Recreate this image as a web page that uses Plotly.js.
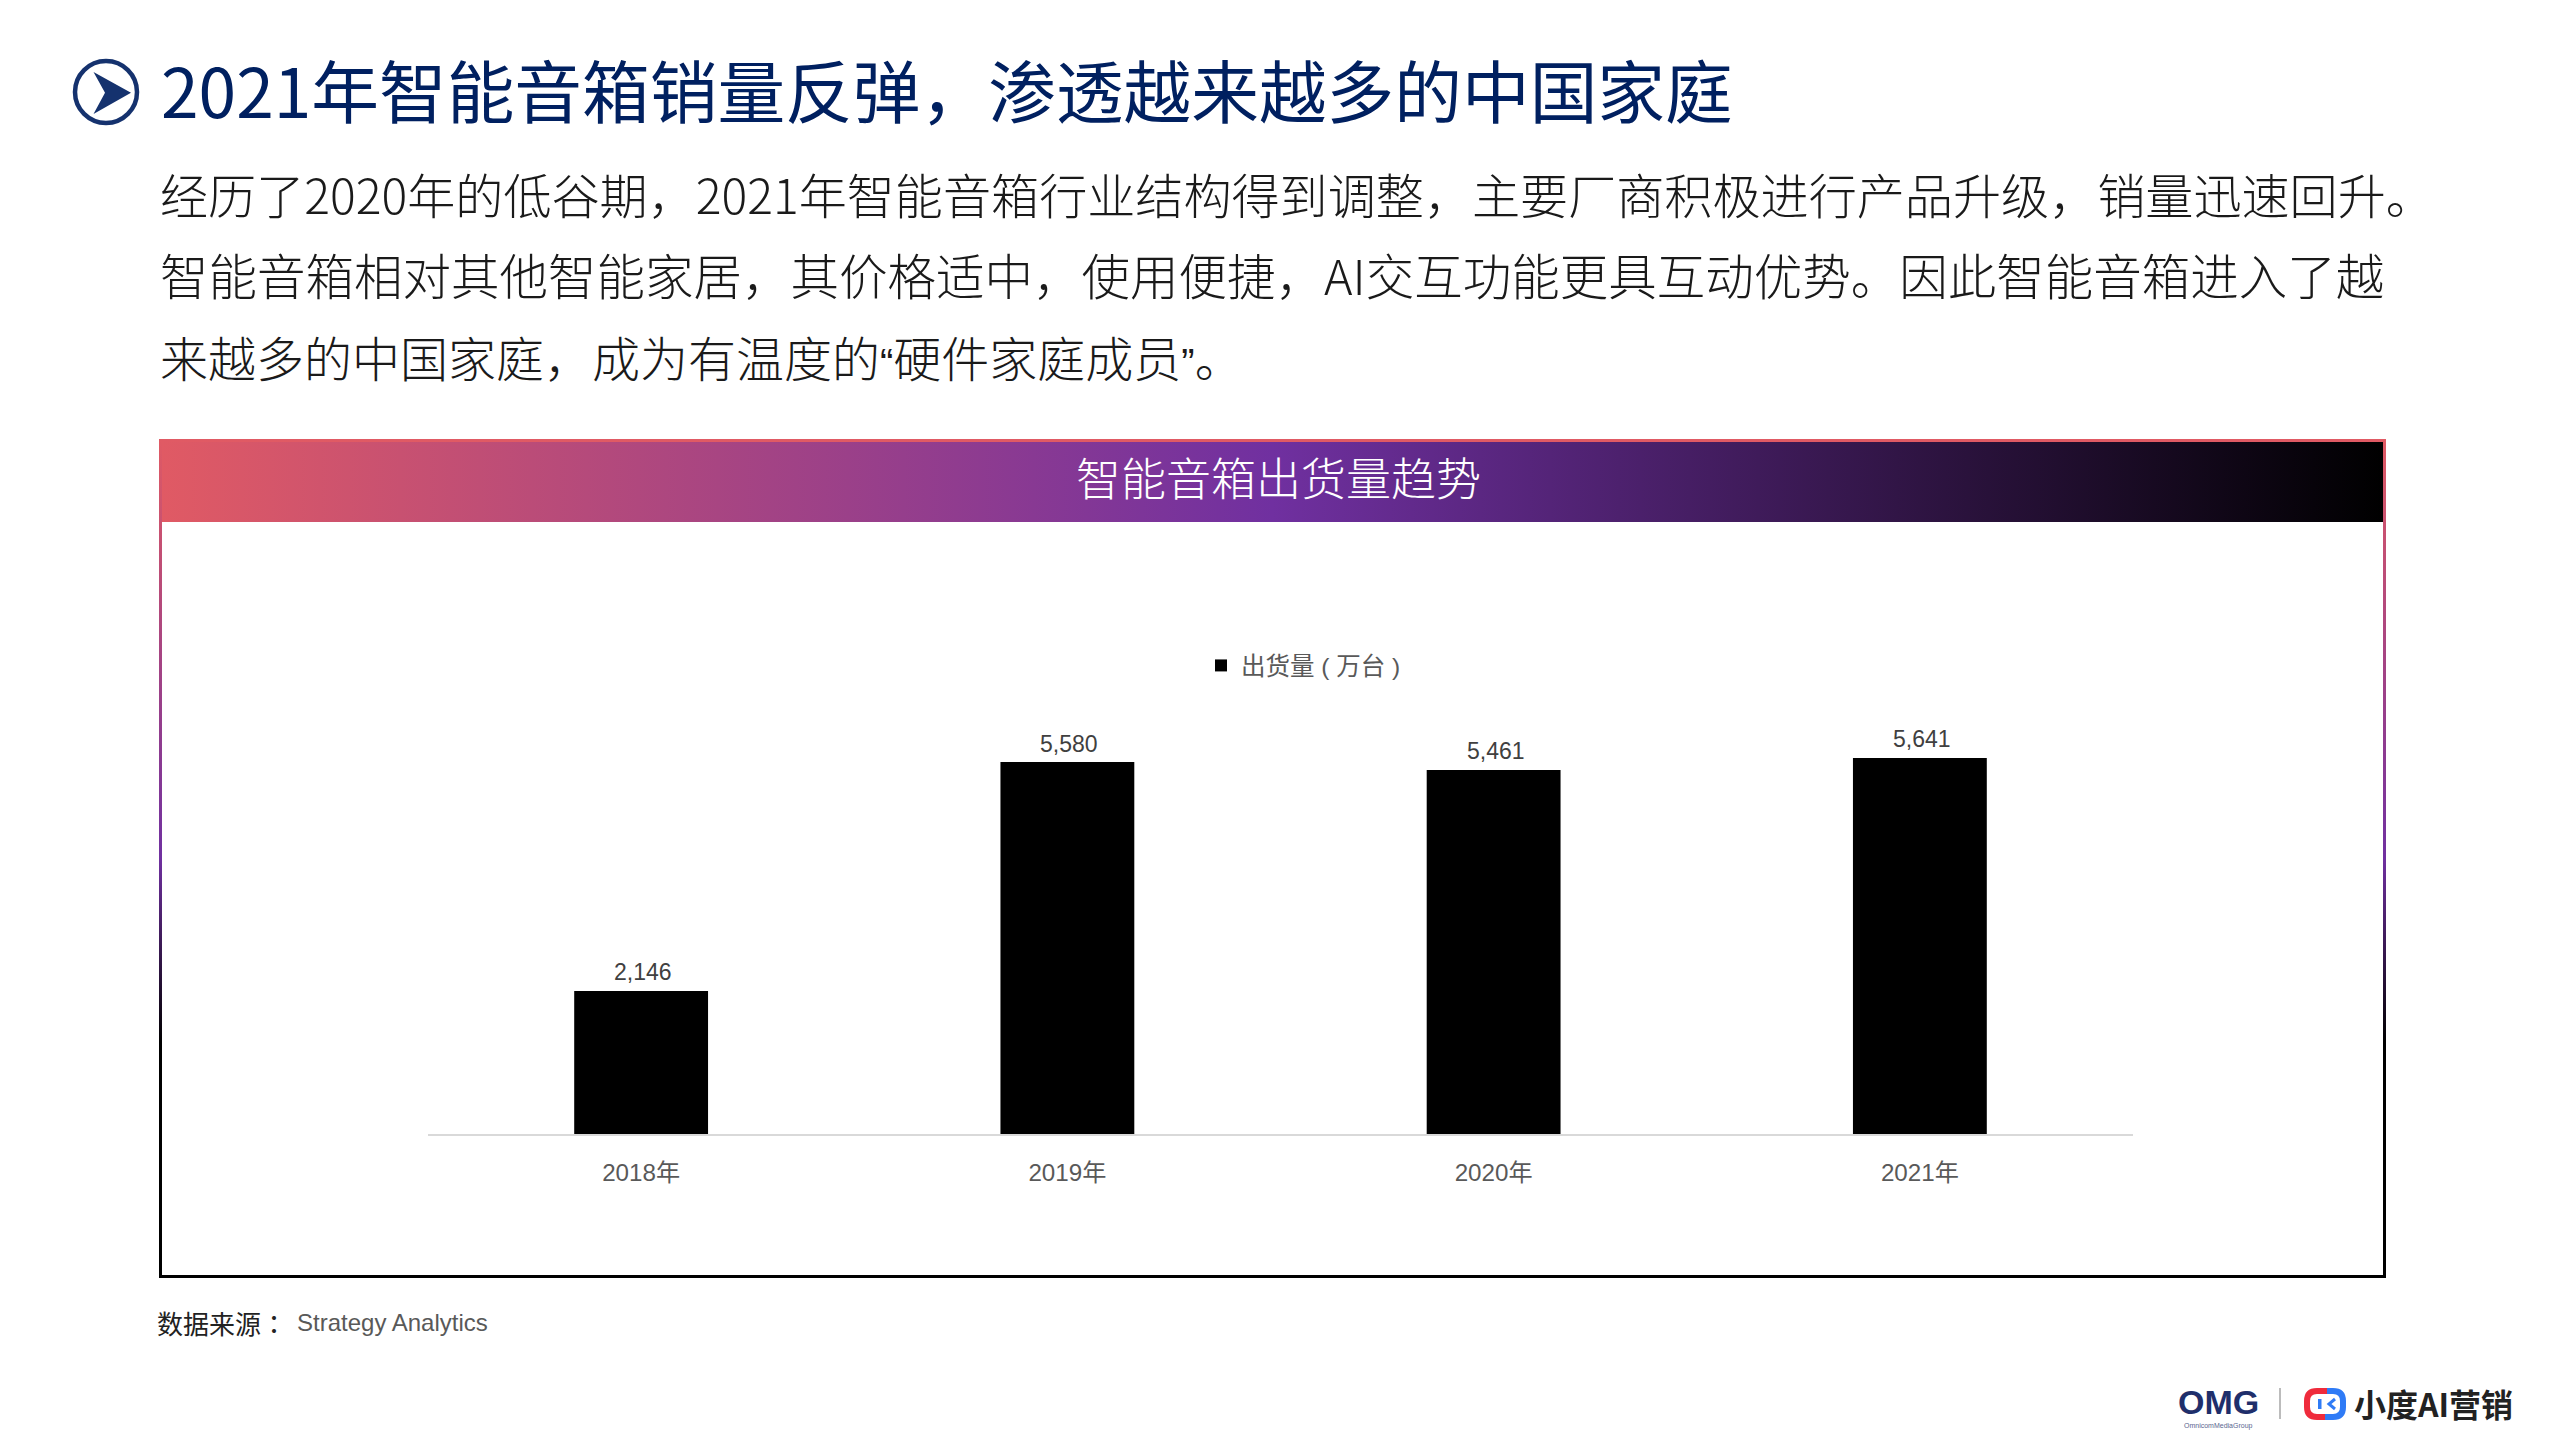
<!DOCTYPE html>
<html>
<head>
<meta charset="utf-8">
<script src="https://cdn.plot.ly/plotly-3.0.1.min.js"></script>
<style>
html,body{margin:0;padding:0;background:#fff;width:2559px;height:1439px;overflow:hidden}
#panel{position:absolute;left:159px;top:439px;width:2221px;height:833px;border:3px solid;border-image:linear-gradient(to bottom,#e05a64 0%,#7030a0 50%,#000 72%,#000 100%) 1;box-sizing:content-box}
#band{position:absolute;left:0;top:0;right:0;height:80px;background:linear-gradient(to right,#e05a64 0%,#7030a0 50%,#000 100%)}
#chart{position:absolute;left:0;top:0;width:2559px;height:1439px}
svg.deco{position:absolute;left:0;top:0}
</style>
</head>
<body>
<div id="panel"><div id="band"></div></div>
<svg class="deco" width="2559" height="1439">
  <circle cx="106" cy="92" r="31" fill="none" stroke="#15326e" stroke-width="4.5"/>
  <path d="M93.5 72 L131 92.7 L93.5 114 L105 92.7 Z" fill="#15326e"/>
  <line x1="2280" y1="1388" x2="2280" y2="1419" stroke="#a6a6a6" stroke-width="1.5"/>
  <path d="M2327 1391 H2317 Q2307 1391 2307 1401 V1407 Q2307 1417 2317 1417 H2325" fill="none" stroke="#ef2b3c" stroke-width="6"/>
  <path d="M2327 1391 H2333 Q2343 1391 2343 1401 V1407 Q2343 1417 2333 1417 H2325" fill="none" stroke="#2f7bf6" stroke-width="6"/>
  <rect x="2318" y="1399" width="3.5" height="10" fill="#2f7bf6"/>
  <path d="M2335 1399 L2329 1404 L2335 1409" fill="none" stroke="#2f7bf6" stroke-width="3"/>
</svg>
<div id="chart"></div>
<script>
const categories = ["2018年", "2019年", "2020年", "2021年"];
const shipments = [2146, 5580, 5461, 5641];
const seriesName = "出货量 ( 万台 )";
const pageTitle = "2021年智能音箱销量反弹，渗透越来越多的中国家庭";
const quote = t => `<span style="font-family:'Liberation Sans';font-size:40px">${t}</span>`;
const bodyLines = [
  "经历了2020年的低谷期，2021年智能音箱行业结构得到调整，主要厂商积极进行产品升级，销量迅速回升。",
  "智能音箱相对其他智能家居，其价格适中，使用便捷，AI交互功能更具互动优势。因此智能音箱进入了越",
  `来越多的中国家庭，成为有温度的${quote("“")}硬件家庭成员${quote("”")}。`
];
const bodySizes = [48.1, 48.5, 48];
const panelTitle = "智能音箱出货量趋势";
const sourceLabel = "数据来源<span style=\"font-family:'Noto Sans CJK TC'\">：</span>";
const sourceName = "Strategy Analytics";

const L = 428, R = 2133, T = 734, B = 1134;
const X = p => (p - L) / (R - L);
const Y = p => (B - p) / (B - T);
const CJK = '"Noto Sans CJK SC", sans-serif';
const ARIAL = '"Liberation Sans", "Noto Sans CJK SC", sans-serif';

function pageText(text, px, py, font, anchor) {
  return {text, x: X(px), y: Y(py), xref: 'paper', yref: 'paper', showarrow: false,
          xanchor: anchor || 'left', yanchor: 'middle', font, align: 'left'};
}
const annotations = [
  pageText(pageTitle, 159, 88, {family: CJK, size: 67.7, color: '#002060'}),
  ...bodyLines.map((t, i) => pageText(t, 158, 193 + i * 81.5, {family: CJK, size: bodySizes[i], weight: 300, color: '#1a1a1a'})),
  pageText(panelTitle, 1278, 476, {family: CJK, size: 45, weight: 300, color: '#ffffff'}, 'center'),
  pageText(sourceLabel, 155, 1322, {family: CJK, size: 26, color: '#222222'}),
  pageText(sourceName, 295, 1322, {family: ARIAL, size: 24, color: '#595959'}),
  pageText("OMG", 2218, 1402, {family: ARIAL, size: 34, weight: 900, color: '#1f2f6b'}, 'center'),
  pageText("OmnicomMediaGroup", 2218, 1426, {family: ARIAL, size: 7, color: '#5a6690'}, 'center'),
  pageText("小度AI营销", 2352, 1403, {family: CJK, size: 32, weight: 700, color: '#222222'}),
  ...categories.map((c, i) => ({
    text: shipments[i].toLocaleString('en-US'), x: c, y: shipments[i], xref: 'x', yref: 'y',
    showarrow: false, xanchor: 'center', yanchor: 'bottom', xshift: 2, yshift: 3.5,
    font: {family: ARIAL, size: 23, color: '#404040'}
  }))
];

const data = [{
  type: 'bar', x: categories, y: shipments, name: seriesName,
  marker: {color: '#000000'}, showlegend: true, hoverinfo: 'x+y'
}];
const layout = {
  width: 2559, height: 1439,
  margin: {l: L, r: 2559 - R, t: T, b: 1439 - B, pad: 0},
  paper_bgcolor: 'rgba(0,0,0,0)', plot_bgcolor: 'rgba(0,0,0,0)',
  bargap: 0.686, showlegend: true,
  legend: {x: X(1201), y: Y(643), xanchor: 'left', yanchor: 'top', bgcolor: 'rgba(0,0,0,0)',
           orientation: 'h', itemwidth: 30, font: {family: ARIAL, size: 24.5, color: '#595959'}},
  xaxis: {type: 'category', categories, showgrid: false, zeroline: false, showline: true,
          linecolor: '#d9d9d9', linewidth: 2, ticks: 'outside', ticklen: 15.5, tickcolor: 'rgba(0,0,0,0)',
          tickfont: {family: ARIAL, size: 24.2, color: '#595959'}, fixedrange: true},
  yaxis: {range: [0, 6000], visible: false, fixedrange: true},
  annotations
};
Plotly.newPlot('chart', data, layout, {displayModeBar: false, responsive: false});
</script>
</body>
</html>
